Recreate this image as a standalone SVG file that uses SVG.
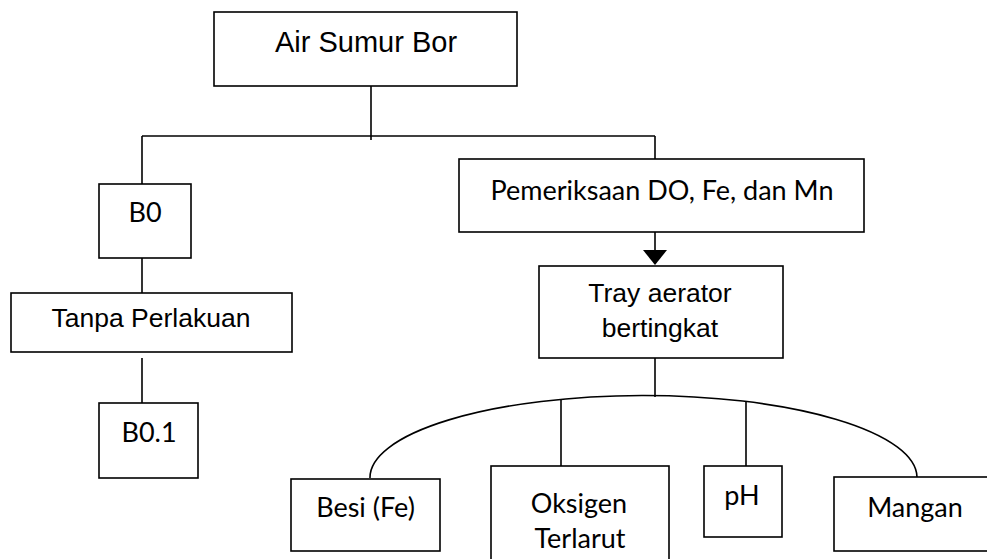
<svg xmlns="http://www.w3.org/2000/svg" width="987" height="559" viewBox="0 0 987 559">
<style>
.box{fill:#fff;stroke:#000;stroke-width:1.6}
.ln{fill:none;stroke:#000;stroke-width:1.6}
.ar{font-family:"Liberation Sans",Arial,sans-serif;fill:#000;text-anchor:middle}
.ca{font-family:Lato,"Noto Sans",sans-serif;fill:#000;text-anchor:middle;font-size:27px}
</style>
<defs>
<marker id="ah" markerWidth="24" markerHeight="16" refX="12" refY="15" orient="0" markerUnits="userSpaceOnUse">
<path d="M0,0 L24,0 L12,15 Z" fill="#000"/>
</marker>
</defs>
<rect width="987" height="559" fill="#fff"/>
<g id="connectors">
<path class="ln" d="M371,86 V140"/>
<path class="ln" d="M142,136 H655"/>
<path class="ln" d="M142,136 V184"/>
<path class="ln" d="M655,136 V159"/>
<path class="ln" d="M142,258 V293"/>
<path class="ln" d="M142,358 V403"/>
<path class="ln" d="M655,232 V251"/>
<path d="M643,250 L667,250 L655,265 Z" fill="#000"/>
<path class="ln" d="M655,358 V397"/>
<path class="ln" d="M370,478 A273.5,82 0 0,1 917,477"/>
<path class="ln" d="M561,400 V466"/>
<path class="ln" d="M746,402 V466"/>
</g>
<g id="air-sumur-bor">
<rect class="box" x="214" y="12" width="303" height="74"/>
<text class="ar" x="366" y="52" font-size="29">Air Sumur Bor</text>
</g>
<g id="b0">
<rect class="box" x="99" y="184" width="92" height="74"/>
<text class="ca" x="145" y="222">B0</text>
</g>
<g id="tanpa-perlakuan">
<rect class="box" x="11" y="293" width="281" height="59"/>
<text class="ar" x="151" y="327" font-size="26.5">Tanpa Perlakuan</text>
</g>
<g id="b0-1">
<rect class="box" x="99" y="403" width="99" height="75"/>
<text class="ca" x="149" y="442">B0.1</text>
</g>
<g id="pemeriksaan">
<rect class="box" x="459" y="159" width="405" height="73"/>
<text class="ca" x="662" y="200">Pemeriksaan DO, Fe, dan Mn</text>
</g>
<g id="tray-aerator">
<rect class="box" x="539" y="266" width="244" height="92"/>
<text class="ar" x="660" y="302" font-size="26.5">Tray aerator</text>
<text class="ar" x="660" y="337" font-size="26.5">bertingkat</text>
</g>
<g id="besi">
<rect class="box" x="291" y="479" width="149" height="72"/>
<text class="ca" x="365.5" y="517">Besi (Fe)</text>
</g>
<g id="oksigen">
<rect class="box" x="491" y="466" width="178" height="100"/>
<text class="ca" x="579" y="513">Oksigen</text>
<text class="ca" x="580" y="548">Terlarut</text>
</g>
<g id="ph">
<rect class="box" x="704" y="466" width="78" height="71"/>
<text class="ca" x="742" y="505">pH</text>
</g>
<g id="mangan">
<rect class="box" x="834" y="477" width="162" height="74"/>
<text class="ca" x="915" y="517">Mangan</text>
</g>
</svg>
